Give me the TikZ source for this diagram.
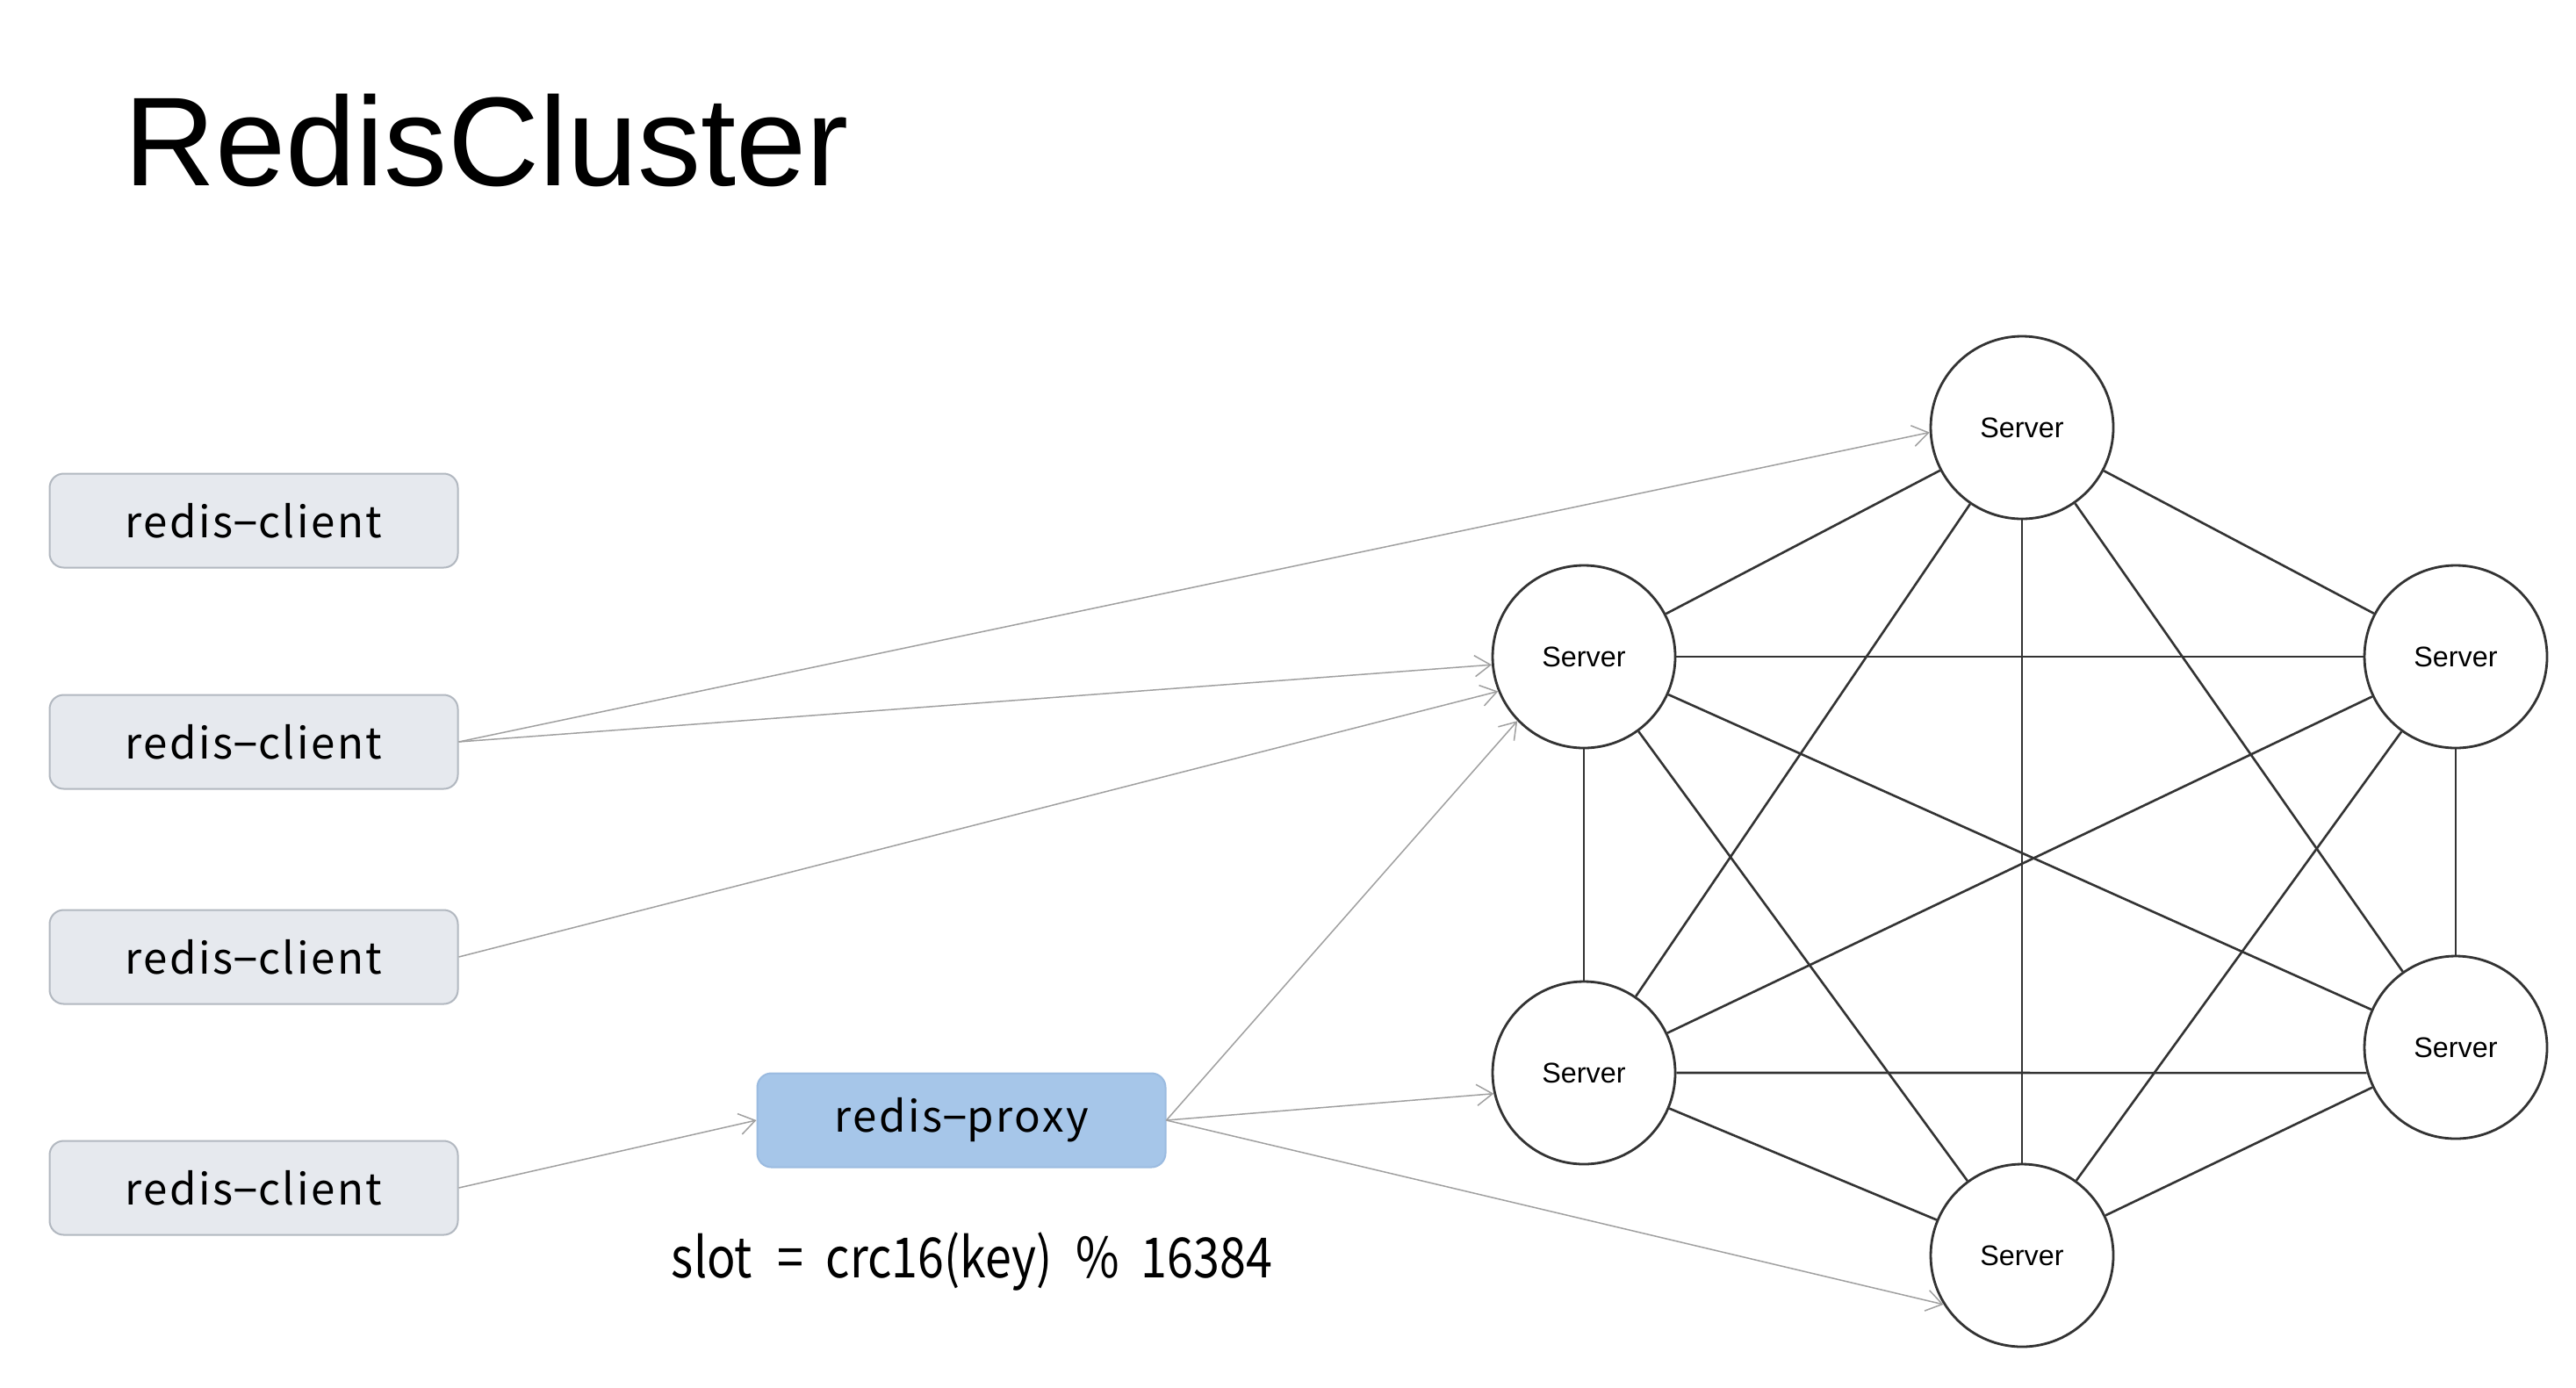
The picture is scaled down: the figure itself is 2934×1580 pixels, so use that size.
\documentclass[tikz,border=0pt]{standalone}
\usepackage{fontspec}
\setmainfont{Liberation Sans}
\newfontfamily\labelfont[LetterSpace=5]{Noto Sans CJK SC}
\newfontfamily\condfont[FakeStretch=0.85]{Noto Sans CJK SC}
\usetikzlibrary{arrows.meta}
\definecolor{clientfill}{HTML}{E6E9EE}
\definecolor{clientdraw}{HTML}{B2B8C0}
\definecolor{proxyfill}{HTML}{A6C6E9}
\definecolor{proxydraw}{HTML}{9BBBE0}
\definecolor{edgecol}{HTML}{333333}
\definecolor{arrowcol}{HTML}{A0A0A0}
\newcommand{\dsh}{{\rmfamily −}}
\begin{document}
\begin{tikzpicture}[x=0.1mm,y=-0.1mm,
  clientbox/.style={draw=clientdraw, line width=0.2mm, fill=clientfill,
    rounded corners=1.6mm, minimum width=46.5mm, minimum height=10.7mm,
    inner sep=0pt, font=\labelfont\fontsize{14}{16}\selectfont},
  proxybox/.style={draw=proxydraw, line width=0.2mm, fill=proxyfill,
    rounded corners=1.6mm, minimum width=46.5mm, minimum height=10.7mm,
    inner sep=0pt, font=\labelfont\fontsize{14}{16}\selectfont},
  server/.style={circle, draw=edgecol, line width=0.28mm, fill=white,
    minimum size=20.8mm, inner sep=0pt, font=\fontsize{9.2}{11}\selectfont},
  link/.style={draw=edgecol, line width=0.26mm},
  req/.style={draw=arrowcol, line width=0.15mm,
    -{Straight Barb[length=1.8mm,width=2.4mm]}}
]
\useasboundingbox (0,0) rectangle (2934,1580);
\fill[white] (0,0) rectangle (2934,1580);

\node[anchor=base west, inner sep=0pt, font=\fontsize{41}{48}\selectfont] (title) at (141,211) {RedisCluster};

\node[clientbox] (c1) at (289,593) {redis\dsh client};
\node[clientbox] (c2) at (289,845) {redis\dsh client};
\node[clientbox] (c3) at (289,1090) {redis\dsh client};
\node[clientbox] (c4) at (289,1353) {redis\dsh client};

\node[proxybox] (proxy) at (1095,1276) {redis\dsh proxy};
\node[font=\condfont\fontsize{18}{20}\selectfont, inner sep=0pt] (formula) at (1107,1437)
  {slot\hspace{0.45em}=\hspace{0.4em}crc16(key)\hspace{0.42em}\%\hspace{0.4em}16384};

\node[server] (T)  at (2303,487)  {Server};
\node[server] (LU) at (1804,748)  {Server};
\node[server] (RU) at (2797,748)  {Server};
\node[server] (LL) at (1804,1222) {Server};
\node[server] (RL) at (2797,1193) {Server};
\node[server] (B)  at (2303,1430) {Server};

\draw[link] (T) -- (LU);
\draw[link] (T) -- (RU);
\draw[link] (T) -- (LL);
\draw[link] (T) -- (RL);
\draw[link] (T) -- (B);
\draw[link] (LU) -- (RU);
\draw[link] (LU) -- (LL);
\draw[link] (LU) -- (RL);
\draw[link] (LU) -- (B);
\draw[link] (RU) -- (LL);
\draw[link] (RU) -- (RL);
\draw[link] (RU) -- (B);
\draw[link] (LL.east) -- (RL.196);
\draw[link] (LL) -- (B);
\draw[link] (RL) -- (B);

\draw[req] (c2.east) -- (T.183);
\draw[req] (c2.east) -- (LU.185);
\draw[req] (c3.east) -- (LU.202);
\draw[req] (c4.east) -- (proxy.west);
\draw[req] (proxy.east) -- (LU.224);
\draw[req] (proxy.east) -- (LL.193);
\draw[req] (proxy.east) -- (B.212);
\end{tikzpicture}
\end{document}
